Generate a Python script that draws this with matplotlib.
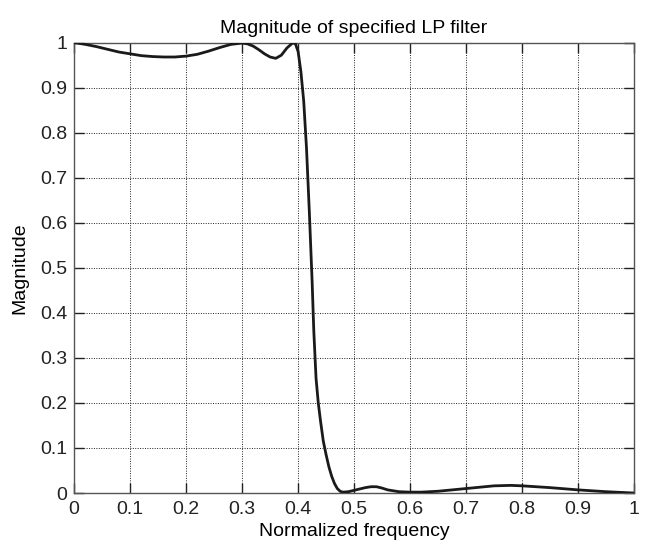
import matplotlib
matplotlib.use('Agg')
import matplotlib.pyplot as plt

# Magnitude response
freq = [0.00, 0.02, 0.04, 0.06, 0.08, 0.10, 0.12, 0.14, 0.16, 0.18,
        0.20, 0.22, 0.24, 0.26, 0.28, 0.30, 0.31, 0.32, 0.33, 0.34,
        0.35, 0.36, 0.37, 0.38, 0.39, 0.395, 0.40, 0.405, 0.41, 0.415,
        0.42, 0.425, 0.428, 0.432, 0.436, 0.44, 0.445, 0.45, 0.455, 0.46,
        0.465, 0.47, 0.475, 0.48, 0.49, 0.50, 0.51, 0.52, 0.53, 0.54,
        0.55, 0.56, 0.58, 0.60, 0.62, 0.65, 0.70, 0.75, 0.78, 0.80,
        0.85, 0.90, 0.95, 1.00]
magnitude = [1.000, 0.996, 0.991, 0.985, 0.979, 0.975, 0.971, 0.969, 0.968, 0.968,
             0.970, 0.974, 0.981, 0.989, 0.996, 0.999, 0.997, 0.992, 0.984, 0.975,
             0.968, 0.965, 0.972, 0.988, 0.999, 0.998, 0.980, 0.935, 0.870, 0.765,
             0.625, 0.470, 0.360, 0.255, 0.200, 0.160, 0.115, 0.085, 0.058, 0.037,
             0.021, 0.010, 0.004, 0.002, 0.003, 0.006, 0.009, 0.012, 0.014, 0.014,
             0.011, 0.007, 0.003, 0.002, 0.002, 0.004, 0.010, 0.016, 0.017, 0.016,
             0.012, 0.007, 0.003, 0.000]

xticks = [0, 0.1, 0.2, 0.3, 0.4, 0.5, 0.6, 0.7, 0.8, 0.9, 1]
xtick_labels = ['0', '0.1', '0.2', '0.3', '0.4', '0.5', '0.6', '0.7', '0.8', '0.9', '1']
yticks = [0, 0.1, 0.2, 0.3, 0.4, 0.5, 0.6, 0.7, 0.8, 0.9, 1]
ytick_labels = ['0', '0.1', '0.2', '0.3', '0.4', '0.5', '0.6', '0.7', '0.8', '0.9', '1']

plt.rcParams['font.family'] = ['Liberation Sans', 'DejaVu Sans']
plt.rcParams['font.size'] = 14

fig = plt.figure(figsize=(6.45, 5.46), dpi=100)
ax = fig.add_axes([0.115, 0.097, 0.868, 0.825])

ax.plot(freq, magnitude, color='#1a1a1a', lw=2.0, zorder=3)

ax.set_xlim(0, 1)
ax.set_ylim(0, 1)
ax.set_xticks(xticks)
ax.set_xticklabels(xtick_labels)
ax.set_yticks(yticks)
ax.set_yticklabels(ytick_labels)

# MATLAB-like look: inward ticks on every side, dotted grid
ax.tick_params(direction='in', length=7, width=1.0, top=True, right=True,
               colors='#222222', labelsize=14)
ax.tick_params(axis='x', pad=6)
ax.tick_params(axis='y', pad=5)
ax.grid(True, linestyle=(0, (1, 1.5)), color='#222222', lw=0.7)
for sp in ax.spines.values():
    sp.set_color('#555555')
    sp.set_linewidth(1.0)

ax.set_title('Magnitude of specified LP filter', fontsize=14, pad=7)
ax.set_xlabel('Normalized frequency', fontsize=14, labelpad=3)
ax.set_ylabel('Magnitude', fontsize=14, labelpad=8)

plt.savefig('out.png', dpi=100)
